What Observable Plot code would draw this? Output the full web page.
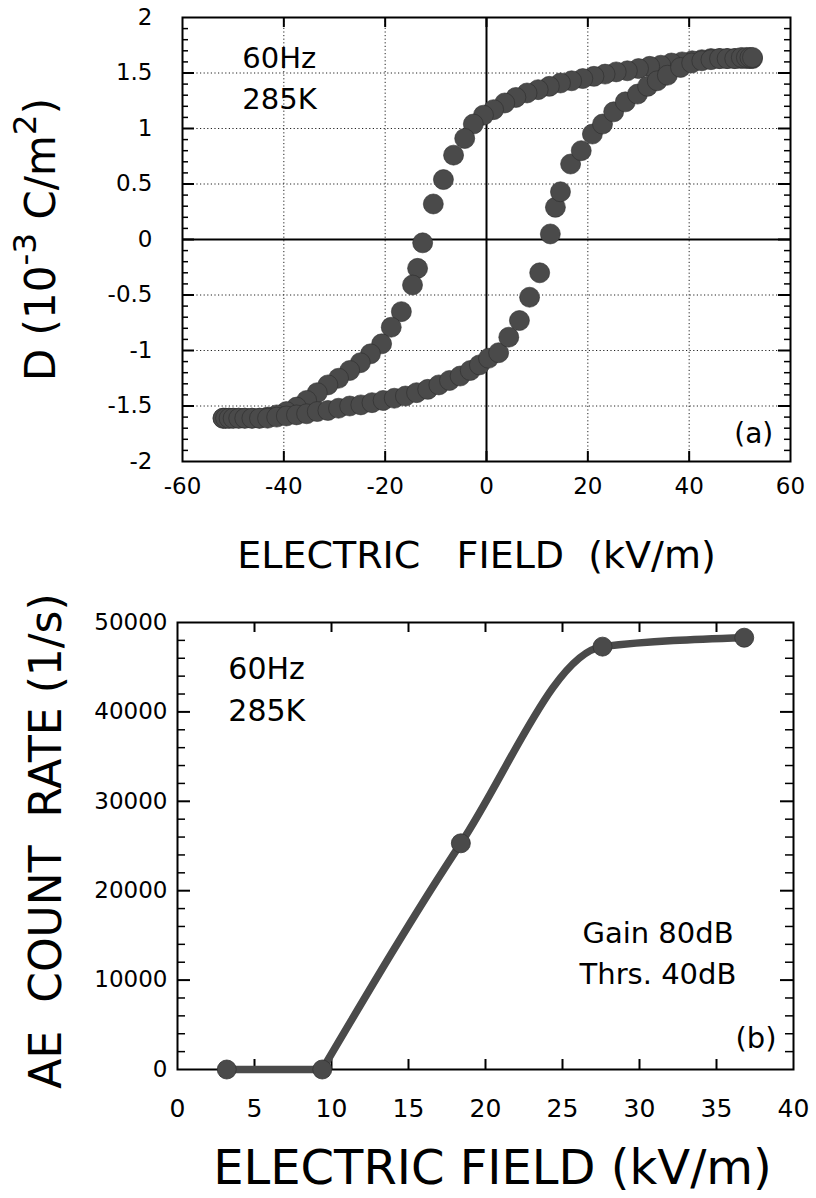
<!DOCTYPE html>
<html>
<head>
<meta charset="utf-8">
<script src="https://cdn.jsdelivr.net/npm/d3@7"></script>
<script src="https://cdn.jsdelivr.net/npm/@observablehq/plot@0.6"></script>
<style>
  body { margin: 0; background: #fff; }
  #chart { width: 816px; }
  #chart svg { display: block; overflow: visible; }
</style>
</head>
<body>
<div id="chart"></div>
<script>
// ---------- Data: panel (a) hysteresis loop ----------
const upperE = [52.5, 52, 51.3, 50.3, 49, 47.5, 46, 44.3, 42.5, 40.6, 38.6, 36.5, 34.4, 32.2, 30, 27.8, 25.6, 23.4, 21.2, 19, 16.8, 14.6, 12.4, 10.2, 8, 5.8, 3.6, 1.4, -0.6, -2.6, -4.3, -6.5, -8.5, -10.5, -12.6, -13.6, -14.6, -16.8, -18.8, -20.7, -22.9, -24.9, -27, -29.2, -31.3, -33.4, -35.5, -37.5, -39.5, -41.4, -43.2, -44.8, -46.3, -47.7, -48.9, -50, -50.8, -51.5, -52];
const upperD = [1.63, 1.63, 1.63, 1.63, 1.63, 1.63, 1.63, 1.63, 1.62, 1.61, 1.60, 1.59, 1.57, 1.56, 1.54, 1.52, 1.51, 1.49, 1.47, 1.45, 1.43, 1.41, 1.38, 1.35, 1.32, 1.28, 1.23, 1.17, 1.12, 1.04, 0.91, 0.76, 0.54, 0.32, -0.03, -0.26, -0.41, -0.65, -0.79, -0.94, -1.03, -1.11, -1.18, -1.25, -1.31, -1.38, -1.45, -1.51, -1.55, -1.58, -1.60, -1.61, -1.61, -1.61, -1.61, -1.61, -1.61, -1.61, -1.61];
const lowerE = [-52, -51.5, -50.8, -50, -48.9, -47.7, -46.3, -44.8, -43.2, -41.4, -39.5, -37.5, -35.5, -33.4, -31.3, -29.2, -27, -24.8, -22.6, -20.4, -18.2, -16, -13.8, -11.6, -9.4, -7.3, -5.2, -3.2, -1.4, 0.4, 2.4, 4.4, 6.5, 8.5, 10.5, 12.6, 13.6, 14.6, 16.6, 18.7, 20.9, 22.9, 25.1, 27.4, 29.8, 31.8, 33.7, 35.7, 38.3, 40.5, 42.5, 44.3, 46, 47.5, 49, 50.3, 51.3, 52, 52.5];
const lowerD = [-1.61, -1.61, -1.61, -1.61, -1.61, -1.61, -1.61, -1.61, -1.61, -1.60, -1.59, -1.58, -1.57, -1.55, -1.54, -1.52, -1.50, -1.49, -1.47, -1.45, -1.43, -1.41, -1.38, -1.35, -1.31, -1.27, -1.23, -1.18, -1.13, -1.07, -1.02, -0.88, -0.73, -0.52, -0.30, 0.05, 0.29, 0.43, 0.68, 0.80, 0.95, 1.04, 1.15, 1.24, 1.31, 1.38, 1.43, 1.48, 1.55, 1.59, 1.61, 1.62, 1.63, 1.63, 1.63, 1.64, 1.64, 1.64, 1.64];
const aXTicks = [-60, -40, -20, 0, 20, 40, 60];
const aYTicks = [-2, -1.5, -1, -0.5, 0, 0.5, 1, 1.5, 2];

// ---------- Data: panel (b) AE count rate ----------
const bField = [3.2, 9.4, 18.4, 27.6, 36.8];
const bRate = [0, 0, 25300, 47300, 48300];
const bXTicks = [0, 5, 10, 15, 20, 25, 30, 35, 40];
const bYTicks = [0, 10000, 20000, 30000, 40000, 50000];

const FONT = "'DejaVu Sans', sans-serif";
const INK = "#000";
const DOT = "#4a4a4a";
const W = 816;

// ---------- Panel (a) ----------
const A = {height: 600, top: 17, bottom: 139, left: 182, right: 26};
const aXDom = [-60, 60], aYDom = [-2, 2];
const aEpp = (aXDom[1] - aXDom[0]) / (W - A.left - A.right);       // E units per px
const aDpp = (aYDom[1] - aYDom[0]) / (A.height - A.top - A.bottom);  // D units per px

const loop = upperE.map((e, i) => ({E: e, D: upperD[i]}))
  .concat(lowerE.map((e, i) => ({E: e, D: lowerD[i]})));

const aMinorY = d3.range(-20, 21).map(v => v / 10).filter(v => Math.abs(v * 2 - Math.round(v * 2)) > 1e-9);
const aMajorYin = aYTicks.filter(v => v > aYDom[0] && v < aYDom[1]);
const aMajorXin = aXTicks.filter(v => v > aXDom[0] && v < aXDom[1]);
const aGridX = aMajorXin.filter(v => v !== 0);
const aGridY = aMajorYin.filter(v => v !== 0);

const plotA = Plot.plot({
  width: W, height: A.height,
  marginTop: A.top, marginBottom: A.bottom, marginLeft: A.left, marginRight: A.right,
  style: {fontFamily: FONT, background: "#fff", color: INK, overflow: "visible"},
  x: {domain: aXDom},
  y: {domain: aYDom},
  marks: [
    Plot.ruleX(aGridX, {stroke: "#222", strokeWidth: 1, strokeDasharray: "1.2,2.4"}),
    Plot.ruleY(aGridY, {stroke: "#222", strokeWidth: 1, strokeDasharray: "1.2,2.4"}),
    Plot.ruleX([0], {stroke: INK, strokeWidth: 2}),
    Plot.ruleY([0], {stroke: INK, strokeWidth: 2}),
    // inward ticks
    Plot.ruleY(aMinorY, {y: d => d, x1: aXDom[0], x2: aXDom[0] + 6 * aEpp, stroke: INK, strokeWidth: 1.5}),
    Plot.ruleY(aMinorY, {y: d => d, x1: aXDom[1], x2: aXDom[1] - 6 * aEpp, stroke: INK, strokeWidth: 1.5}),
    Plot.ruleY(aMajorYin, {y: d => d, x1: aXDom[0], x2: aXDom[0] + 12 * aEpp, stroke: INK, strokeWidth: 2}),
    Plot.ruleY(aMajorYin, {y: d => d, x1: aXDom[1], x2: aXDom[1] - 12 * aEpp, stroke: INK, strokeWidth: 2}),
    Plot.ruleX(aMajorXin, {x: d => d, y1: aYDom[1], y2: aYDom[1] - 10 * aDpp, stroke: INK, strokeWidth: 2}),
    Plot.ruleX(aMajorXin, {x: d => d, y1: aYDom[0], y2: aYDom[0] + 10 * aDpp, stroke: INK, strokeWidth: 2}),
    Plot.frame({stroke: INK, strokeWidth: 2}),
    Plot.dot(loop, {x: "E", y: "D", r: 10, fill: DOT, stroke: "#2e2e2e", strokeWidth: 0.6}),
    // tick labels
    Plot.axisX(aXTicks, {anchor: "bottom", tickSize: 0, tickPadding: 16, fontSize: 23, label: null, tickFormat: d => String(d), fontFamily: FONT}),
    Plot.axisY(aYTicks, {anchor: "left", tickSize: 0, tickPadding: 30, fontSize: 23, label: null, tickFormat: d => String(d), fontFamily: FONT}),
    // axis titles
    Plot.text(["ELECTRIC\u00a0\u00a0\u00a0FIELD\u00a0\u00a0(kV/m)"], {frameAnchor: "bottom", dy: 106, dx: -10, lineAnchor: "bottom", textAnchor: "middle", fontSize: 38, fontFamily: FONT, fill: INK}),
    Plot.text(["D (10-3 C/m2)"], {frameAnchor: "left", rotate: -90, dx: -141, textAnchor: "middle", fontSize: 42, fontFamily: FONT, fill: INK, className: "ylab-a"}),
    // annotations
    Plot.text(["60Hz\n285K"], {x: -48.2, y: 1.18, textAnchor: "start", lineAnchor: "bottom", lineHeight: 1.41, fontSize: 29, fontFamily: FONT, fill: INK}),
    Plot.text(["(a)"], {x: 56.6, y: -1.83, textAnchor: "end", lineAnchor: "bottom", fontSize: 28, fontFamily: FONT, fill: INK})
  ]
});

// ---------- Panel (b) ----------
const B = {height: 598, top: 22, bottom: 129, left: 177, right: 23};
const bXDom = [0, 40], bYDom = [0, 50000];
const bFpp = (bXDom[1] - bXDom[0]) / (W - B.left - B.right);
const bRpp = (bYDom[1] - bYDom[0]) / (B.height - B.top - B.bottom);

const ae = bField.map((f, i) => ({F: f, R: bRate[i]}));
const aeFlat = ae.filter(d => d.R === 0);                 // below threshold: flat part
const aeRise = ae.slice(aeFlat.length - 1);               // from last zero point upward
const bMinorY = d3.range(1, 25).map(v => v * 2000).filter(v => v % 10000 !== 0);
const bMajorYin = bYTicks.filter(v => v > bYDom[0] && v < bYDom[1]);
const bMajorXin = bXTicks.filter(v => v > bXDom[0] && v < bXDom[1]);

const plotB = Plot.plot({
  width: W, height: B.height,
  marginTop: B.top, marginBottom: B.bottom, marginLeft: B.left, marginRight: B.right,
  style: {fontFamily: FONT, background: "transparent", color: INK, overflow: "visible"},
  x: {domain: bXDom},
  y: {domain: bYDom},
  marks: [
    Plot.ruleY(bMinorY, {y: d => d, x1: bXDom[0], x2: bXDom[0] + 8 * bFpp, stroke: INK, strokeWidth: 1.5}),
    Plot.ruleY(bMinorY, {y: d => d, x1: bXDom[1], x2: bXDom[1] - 8 * bFpp, stroke: INK, strokeWidth: 1.5}),
    Plot.ruleY(bMajorYin, {y: d => d, x1: bXDom[0], x2: bXDom[0] + 13 * bFpp, stroke: INK, strokeWidth: 2}),
    Plot.ruleY(bMajorYin, {y: d => d, x1: bXDom[1], x2: bXDom[1] - 13 * bFpp, stroke: INK, strokeWidth: 2}),
    Plot.ruleX(bMajorXin, {x: d => d, y1: bYDom[1], y2: bYDom[1] - 10 * bRpp, stroke: INK, strokeWidth: 2}),
    Plot.ruleX(bMajorXin, {x: d => d, y1: bYDom[0], y2: bYDom[0] + 10 * bRpp, stroke: INK, strokeWidth: 2}),
    Plot.frame({stroke: INK, strokeWidth: 2}),
    Plot.line(aeFlat, {x: "F", y: "R", curve: "linear", stroke: DOT, strokeWidth: 7.5, strokeLinecap: "round"}),
    Plot.line(aeRise, {x: "F", y: "R", curve: "monotone-x", stroke: DOT, strokeWidth: 7.5, strokeLinecap: "round", strokeLinejoin: "round"}),
    Plot.dot(ae, {x: "F", y: "R", r: 9.5, fill: DOT, stroke: "#333", strokeWidth: 0.8}),
    Plot.axisX(bXTicks, {anchor: "bottom", tickSize: 0, tickPadding: 30, fontSize: 25, label: null, tickFormat: d => String(d), fontFamily: FONT}),
    Plot.axisY(bYTicks, {anchor: "left", tickSize: 0, tickPadding: 10, fontSize: 23, label: null, tickFormat: d => String(d), fontFamily: FONT}),
    Plot.text(["ELECTRIC FIELD (kV/m)"], {frameAnchor: "bottom", dy: 114, dx: 7, lineAnchor: "bottom", textAnchor: "middle", fontSize: 48, fontFamily: FONT, fill: INK}),
    Plot.text(["AE\u00a0\u00a0COUNT\u00a0\u00a0RATE (1/s)"], {frameAnchor: "left", rotate: -90, dx: -131, dy: -5, textAnchor: "middle", fontSize: 44, fontFamily: FONT, fill: INK}),
    Plot.text(["60Hz\n285K"], {x: 3.3, y: 39000, textAnchor: "start", lineAnchor: "bottom", lineHeight: 1.41, fontSize: 30, fontFamily: FONT, fill: INK}),
    Plot.text(["Gain 80dB\nThrs. 40dB"], {x: 31.2, y: 9600, textAnchor: "middle", lineAnchor: "bottom", lineHeight: 1.41, fontSize: 29, fontFamily: FONT, fill: INK}),
    Plot.text(["(b)"], {x: 38.9, y: 2400, textAnchor: "end", lineAnchor: "bottom", fontSize: 29, fontFamily: FONT, fill: INK})
  ]
});

const host = document.getElementById("chart");
host.appendChild(plotA);
host.appendChild(plotB);

// superscripts in the D axis title
(function () {
  const ns = "http://www.w3.org/2000/svg";
  const t = plotA.querySelector("g.ylab-a text");
  if (!t) return;
  t.textContent = "";
  [["D (10", false], ["-3", true], [" C/m", false], ["2", true], [")", false]].forEach(([s, sup]) => {
    const ts = document.createElementNS(ns, "tspan");
    ts.textContent = s;
    if (sup) { ts.setAttribute("baseline-shift", "super"); ts.setAttribute("font-size", "78%"); }
    t.appendChild(ts);
  });
})();
</script>
</body>
</html>
